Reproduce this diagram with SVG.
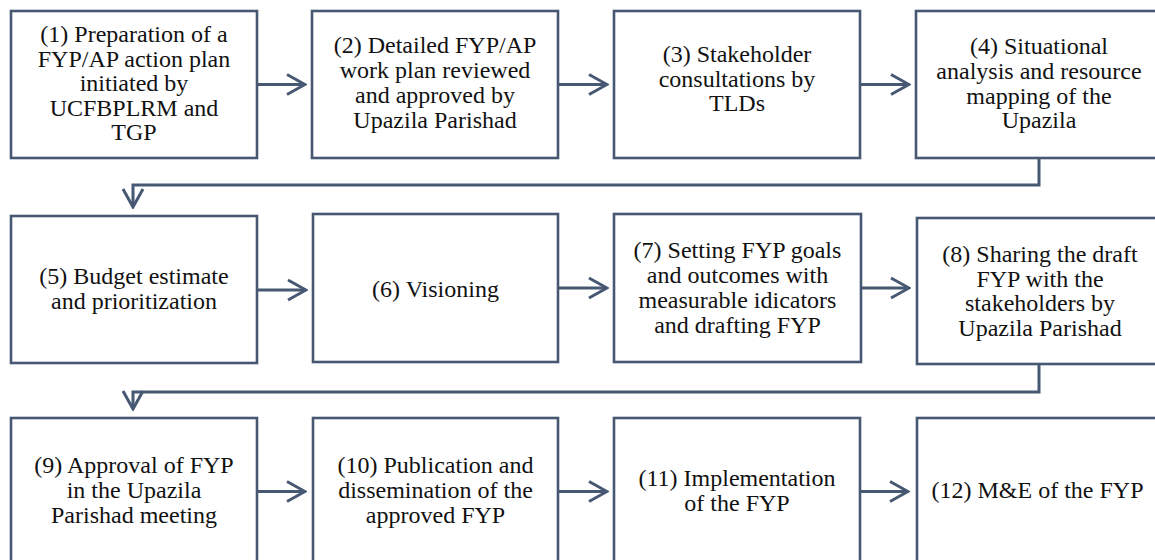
<svg xmlns="http://www.w3.org/2000/svg" width="1155" height="560" viewBox="0 0 1155 560">
  <style>
    .box { fill: #ffffff; stroke: #475873; stroke-width: 2.6; }
    .lbl { font-family: "Liberation Serif", "Times New Roman", serif; font-size: 24px; fill: #111111; text-anchor: middle; }
    .con { fill: none; stroke: #475873; stroke-width: 3; }
  </style>
  <defs>
    <marker id="chev" viewBox="-21 -12 23 24" markerWidth="23" markerHeight="24" refX="0" refY="0" orient="auto" markerUnits="userSpaceOnUse">
      <path d="M-18,-10 L0,0 L-18,10" fill="none" stroke="#475873" stroke-width="3" stroke-linejoin="miter"/>
    </marker>
  </defs>

  <rect width="1155" height="560" fill="#ffffff"/>

  <!-- row 1 -->
  <g id="n1">
    <rect class="box" x="11" y="11" width="246" height="147"/>
    <text class="lbl" x="134" y="42">(1) Preparation of a</text>
    <text class="lbl" x="134" y="66.5">FYP/AP action plan</text>
    <text class="lbl" x="134" y="91">initiated by</text>
    <text class="lbl" x="134" y="115.5">UCFBPLRM and</text>
    <text class="lbl" x="134" y="140">TGP</text>
  </g>
  <g id="n2">
    <rect class="box" x="312" y="11" width="246" height="147"/>
    <text class="lbl" x="435" y="53">(2) Detailed FYP/AP</text>
    <text class="lbl" x="435" y="78">work plan reviewed</text>
    <text class="lbl" x="435" y="103">and approved by</text>
    <text class="lbl" x="435" y="128">Upazila Parishad</text>
  </g>
  <g id="n3">
    <rect class="box" x="614" y="11" width="246" height="147"/>
    <text class="lbl" x="737" y="62">(3) Stakeholder</text>
    <text class="lbl" x="737" y="86.5">consultations by</text>
    <text class="lbl" x="737" y="111">TLDs</text>
  </g>
  <g id="n4">
    <rect class="box" x="916" y="11" width="260" height="147"/>
    <text class="lbl" x="1039" y="54">(4) Situational</text>
    <text class="lbl" x="1039" y="79">analysis and resource</text>
    <text class="lbl" x="1039" y="103.5">mapping of the</text>
    <text class="lbl" x="1039" y="128">Upazila</text>
  </g>

  <!-- row 2 -->
  <g id="n5">
    <rect class="box" x="11" y="216" width="246" height="147"/>
    <text class="lbl" x="134" y="284">(5) Budget estimate</text>
    <text class="lbl" x="134" y="308.5">and prioritization</text>
  </g>
  <g id="n6">
    <rect class="box" x="313" y="214" width="245" height="148"/>
    <text class="lbl" x="435.5" y="297">(6) Visioning</text>
  </g>
  <g id="n7">
    <rect class="box" x="614" y="214" width="247" height="148"/>
    <text class="lbl" x="737.5" y="258">(7) Setting FYP goals</text>
    <text class="lbl" x="737.5" y="283">and outcomes with</text>
    <text class="lbl" x="737.5" y="308">measurable idicators</text>
    <text class="lbl" x="737.5" y="332.5">and drafting FYP</text>
  </g>
  <g id="n8">
    <rect class="box" x="917" y="218" width="260" height="146"/>
    <text class="lbl" x="1040" y="262">(8) Sharing the draft</text>
    <text class="lbl" x="1040" y="286.5">FYP with the</text>
    <text class="lbl" x="1040" y="311">stakeholders by</text>
    <text class="lbl" x="1040" y="335.5">Upazila Parishad</text>
  </g>

  <!-- row 3 -->
  <g id="n9">
    <rect class="box" x="11" y="418" width="246" height="170"/>
    <text class="lbl" x="134" y="473">(9) Approval of FYP</text>
    <text class="lbl" x="134" y="498">in the Upazila</text>
    <text class="lbl" x="134" y="523">Parishad meeting</text>
  </g>
  <g id="n10">
    <rect class="box" x="313" y="418" width="245" height="170"/>
    <text class="lbl" x="435.5" y="473">(10) Publication and</text>
    <text class="lbl" x="435.5" y="498">dissemination of the</text>
    <text class="lbl" x="435.5" y="523">approved FYP</text>
  </g>
  <g id="n11">
    <rect class="box" x="614" y="418" width="246" height="170"/>
    <text class="lbl" x="737" y="486">(11) Implementation</text>
    <text class="lbl" x="737" y="511">of the FYP</text>
  </g>
  <g id="n12">
    <rect class="box" x="917" y="418" width="260" height="170"/>
    <text class="lbl" x="1037.5" y="498">(12) M&amp;E of the FYP</text>
  </g>

  <!-- connectors -->
  <g id="connectors">
    <path class="con" d="M257,84.5 H305" marker-end="url(#chev)"/>
    <path class="con" d="M558,84.5 H607" marker-end="url(#chev)"/>
    <path class="con" d="M860,84.5 H909" marker-end="url(#chev)"/>
    <path class="con" d="M1039,158 V185 H133 V207" marker-end="url(#chev)"/>
    <path class="con" d="M257,290 H306" marker-end="url(#chev)"/>
    <path class="con" d="M558,288 H607" marker-end="url(#chev)"/>
    <path class="con" d="M861,288 H909" marker-end="url(#chev)"/>
    <path class="con" d="M1039,364 V392 H133 V409" marker-end="url(#chev)"/>
    <path class="con" d="M257,491.5 H305" marker-end="url(#chev)"/>
    <path class="con" d="M558,491.5 H607" marker-end="url(#chev)"/>
    <path class="con" d="M860,491.5 H908" marker-end="url(#chev)"/>
  </g>
</svg>
